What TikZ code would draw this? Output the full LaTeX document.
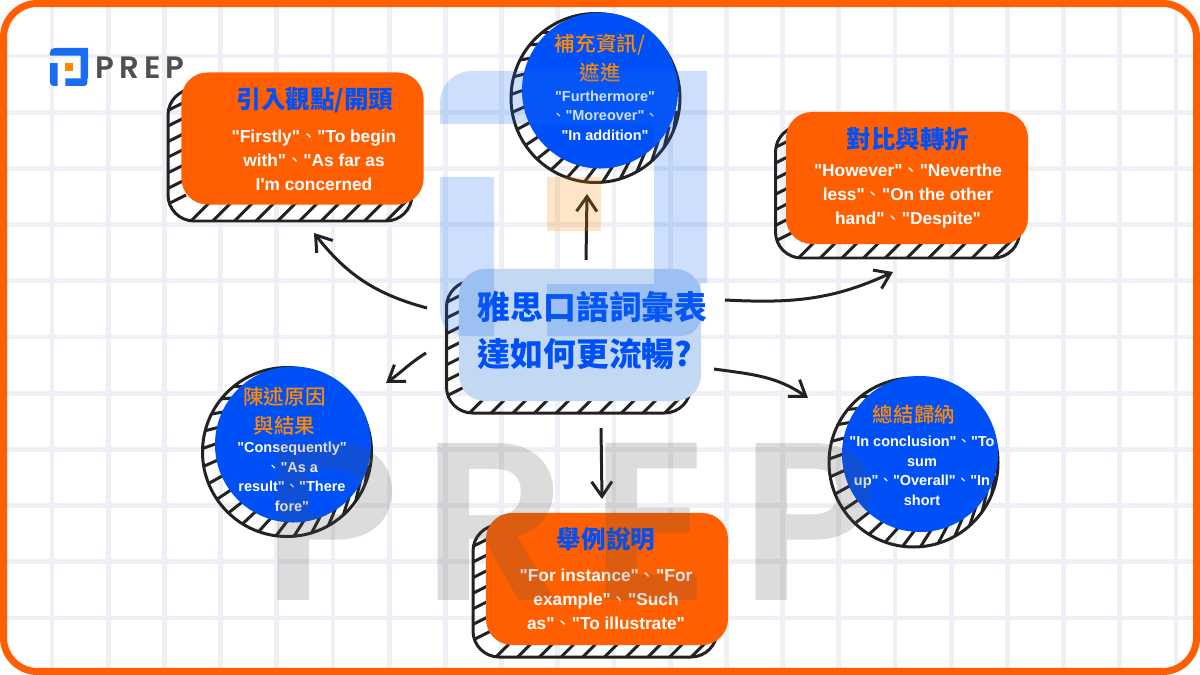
\documentclass[tikz,border=0pt]{standalone}
\usepackage{fontspec}
\newfontfamily\bodyfont{Liberation Sans}
\newfontfamily\cjkfont{Noto Sans CJK TC}
\newfontfamily\cjkmedium{Noto Sans CJK TC Medium}
\newfontfamily\logofont{Poppins SemiBold}
\usetikzlibrary{arrows.meta}

\definecolor{prepOrange}{HTML}{FF5F00}
\definecolor{prepBlue}{HTML}{0050F8}
\definecolor{titleOrange}{HTML}{FF8A00}
\definecolor{gridGrey}{HTML}{EEF0F5}
\definecolor{lineBlack}{HTML}{222222}
\definecolor{mainFill}{HTML}{C3D8F3}
\definecolor{logoBlue}{HTML}{1A6CF0}
\definecolor{logoText}{HTML}{505050}

\newcommand{\dun}{{\cjkfont\mdseries 、}}

\newcommand{\logoshape}{
	\fill [logoBlue] (440,124) -- (440,103) .. controls (440,85) and (454,71) .. (472,71) -- (707,71) -- (707,283) -- (701,283) -- (701,316) .. controls (701,327) and (692,336) .. (681,336) -- (547,336) -- (547,284) -- (654,284) -- (654,124) -- cycle;
	\fill [logoBlue] (440,177) -- (494,177) -- (494,336) -- (464,336) .. controls (451,336) and (440,325) .. (440,312) -- cycle;
	\fill [titleOrange] (547,177) rectangle (601,231);
}

\tikzset{
	orangebox/.style = {fill = prepOrange, rounded corners = 0.65cm, minimum width = 6.05cm, minimum height = 3.3cm, inner sep = 0},
	mainbox/.style = {orangebox, fill = mainFill},
	bluecircle/.style = {circle, fill = prepBlue, minimum size = 3.9cm, inner sep = 0},
	hatchline/.style = {draw = lineBlack, line width = 2.13pt},
	arrowline/.style = {hatchline, -{Straight Barb[length = 10.5pt, width = 14.5pt]}},
	boxtitle/.style = {text = prepBlue, font = \cjkfont\bfseries\fontsize{17.5}{21}\selectfont},
	boxtext/.style = {text = white, align = center, font = \bodyfont\bfseries\fontsize{12.3}{17.07}\selectfont},
	circletitle/.style = {text = titleOrange, align = center, font = \cjkmedium\fontsize{14.6}{20.6}\selectfont},
	circletext/.style = {text = white, align = center, font = \bodyfont\bfseries\fontsize{10.3}{13.9}\selectfont},
	maintext/.style = {text = prepBlue, align = left, font = \cjkfont\bfseries\fontsize{23.3}{33.4}\selectfont},
}

\begin{document}
\begin{tikzpicture}[x = 0.025cm, y = -0.025cm]
	\useasboundingbox (0,0) rectangle (1200,675);

	\begin{scope}
		\foreach \n in {0,...,20}
		{
			\draw [gridGrey, line width = 3.5pt] ({52 + 56.2*\n},5) -- ({52 + 56.2*\n},670);
		}
		\foreach \n in {0,...,10}
		{
			\draw [gridGrey, line width = 3.5pt] (5,{56 + 56.2*\n}) -- (1195,{56 + 56.2*\n});
		}
	\end{scope}

	\draw [prepOrange, line width = 5pt, rounded corners = 0.85cm] (3.5,3.5) rectangle (1196.5,671.5);

	% hatched shadows
	\foreach \cx/\cy in {290/155, 897.5/192, 595/591, 568.5/347}
	{
		\begin{scope}
			\clip [rounded corners = 0.65cm] ({\cx - 122},{\cy - 66}) rectangle ({\cx + 122},{\cy + 66});
			\foreach \n in {0,...,7}
			{
				\draw [hatchline] ({\cx - 124},{\cy + 50 - 15.6*\n}) -- ({\cx - 104},{\cy + 40 - 15.6*\n});
			}
			\foreach \n in {0,...,11}
			{
				\draw [hatchline] ({\cx - 100 + 21.7*\n},{\cy + 67}) -- ({\cx - 80 + 21.7*\n},{\cy + 47});
			}
		\end{scope}
		\draw [hatchline, rounded corners = 0.65cm] ({\cx - 122},{\cy - 66}) rectangle ({\cx + 122},{\cy + 66});
	}

	\foreach \cx/\cy in {595.5/98, 287/452, 913.5/462.5}
	{
		\begin{scope}
			\clip ({\cx},{\cy}) circle [radius = 84.5];
			\foreach \a in {130,142,...,345}
			{
				\draw [hatchline] ({\cx + 86*cos(\a)},{\cy - 86*sin(\a)}) -- ++({25*cos(20 + 0.4*(\a - 180))},{-25*sin(20 + 0.4*(\a - 180))});
			}
		\end{scope}
		\draw [hatchline] ({\cx},{\cy}) circle [radius = 84.5];
	}

	\node [orangebox] (introbox) at (302.5,138.5) {};
	\node [orangebox] (contrastbox) at (907,178) {};
	\node [orangebox] (examplebox) at (607,579) {};
	\node [mainbox] (centerbox) at (580,335) {};
	\node [bluecircle] (addcircle) at (600,90.5) {};
	\node [bluecircle] (causecircle) at (293,444.5) {};
	\node [bluecircle] (sumcircle) at (920,454) {};

	\node [boxtitle] (introtitle) at (315,100) {引入觀點/開頭};
	\node [boxtext] (introtext) at (314,160) {"Firstly"\dun"To begin\\with"\dun"As far as\\I'm concerned};
	\node [boxtitle] (contrasttitle) at (908,139) {對比與轉折};
	\node [boxtext] (contrasttext) at (908,196) {"However"\dun"Neverthe\\less"\dun"On the other\\hand"\dun"Despite"};
	\node [boxtitle] (exampletitle) at (606,539) {舉例說明};
	\node [boxtext] (exampletext) at (606,599) {"For instance"\dun"For\\example"\dun"Such\\as"\dun"To illustrate"};
	\node [circletitle] (addtitle) at (600,58.5) {補充資訊/\\遮進};
	\node [circletext] (addtext) at (605,115.5) {"Furthermore"\\\dun"Moreover"\dun\\"In addition"};
	\node [circletitle] (causetitle) at (284.5,411.5) {陳述原因\\與結果};
	\node [circletext] (causetext) at (292,477) {"Consequently"\\\dun"As a\\result"\dun"There\\fore"};
	\node [circletitle] (sumtitle) at (914,415) {總結歸納};
	\node [circletext] (sumtext) at (922,471) {"In conclusion"\dun"To\\sum\\up"\dun"Overall"\dun"In\\short};
	\node [maintext, anchor = west] (maintitle) at (473,330.5) {雅思口語詞彙表\\達如何更流暢?};

	\coordinate (upstart) at (586,260);
	\coordinate (upend) at (587,194);
	\coordinate (introstart) at (427,308);
	\coordinate (introend) at (314,233);
	\coordinate (causestart) at (426,353);
	\coordinate (causeend) at (386,383);
	\coordinate (contraststart) at (725,300);
	\coordinate (contrastend) at (893,272);
	\coordinate (sumstart) at (714,369);
	\coordinate (sumend) at (808,398);
	\coordinate (downstart) at (601,428);
	\coordinate (downend) at (602,499);

	\draw [arrowline] (upstart) -- (upend);
	\draw [arrowline] (introstart) to [out = 165, in = 308] (introend);
	\draw [arrowline] (causestart) to [out = 212, in = 35] (causeend);
	\draw [arrowline] (contraststart) to [out = -3, in = 205] (contrastend);
	\draw [arrowline] (sumstart) to [out = -8, in = 145] (sumend);
	\draw [arrowline] (downstart) -- (downend);

	% logo and watermark
	\begin{scope}[shift = {(-12.857,37.857)}, scale = 0.14286]
		\logoshape
	\end{scope}
	\node [anchor = base west, text = logoText, inner sep = 0, font = \logofont\fontsize{22}{22}\selectfont] (logotext) at (95,79) {P\kern3.6pt R\kern3.6pt E\kern3.6pt P};

	\begin{scope}[opacity = 0.22]
		\logoshape
	\end{scope}
	\node [anchor = base west, text = logoText, text opacity = 0.2, inner sep = 0, font = \logofont\fontsize{160}{160}\selectfont] (watermark) at (262,600) {P\kern16.4pt R\kern17pt E\kern22pt P};
\end{tikzpicture}
\end{document}
